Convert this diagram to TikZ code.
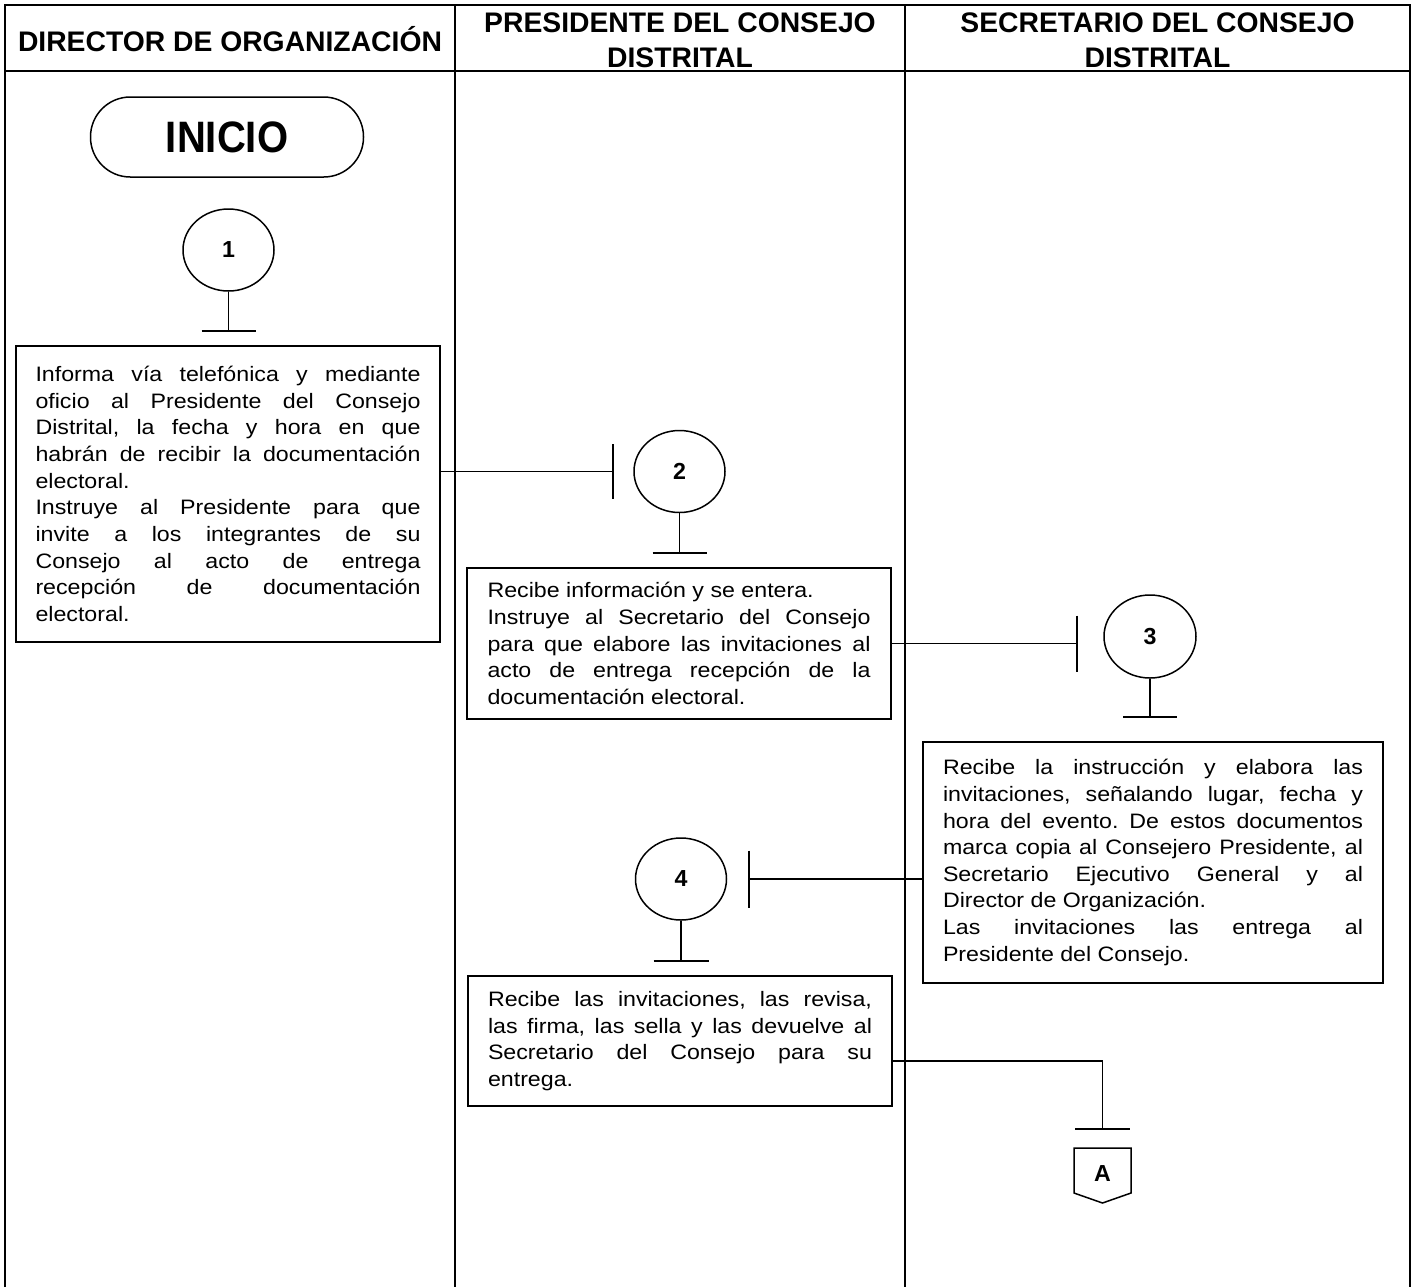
\documentclass[tikz,border=0pt]{standalone}
\usepackage{fontspec}
\setmainfont{Liberation Sans}
\usepackage{graphicx}
\usetikzlibrary{calc,shapes.geometric}
\frenchspacing

% justified step description, slightly condensed in height
\newcommand{\flowtext}[2]{\scalebox{1}[0.9]{\parbox{#1}{\fontsize{11.6pt}{14.8pt}\selectfont\hyphenpenalty=10000\exhyphenpenalty=10000 #2}}}

\begin{document}
\begin{tikzpicture}[x=0.5pt,y=-0.5pt,
  lane/.style={line width=1pt},
  head/.style={inner sep=0pt, align=center, font=\fontsize{14.15pt}{17.5pt}\selectfont\bfseries},
  stepbox/.style={draw, line width=0.9pt, inner sep=0pt},
  stepnum/.style={draw, ellipse, line width=0.75pt, inner sep=0pt,
    minimum width=45.5pt, minimum height=41pt,
    font=\fontsize{11.6pt}{14pt}\selectfont\bfseries},
  link/.style={line width=0.75pt}]
\useasboundingbox (0,0) rectangle (1415,1287);

% swimlane frame
\draw[lane] (5,1287) -- (5,5) -- (1410,5) -- (1410,1287);
\draw[lane] (5,71) -- (1410,71);
\draw[lane] (455,5) -- (455,1287);
\draw[lane] (905,5) -- (905,1287);

% lane headers
\node[head] (h1) at (230,39) {DIRECTOR DE ORGANIZACIÓN};
\node[head] (h2) at (680,40) {PRESIDENTE DEL CONSEJO\\DISTRITAL};
\node[head] (h3) at (1157.5,40) {SECRETARIO DEL CONSEJO\\DISTRITAL};

% start terminal
\node[draw, line width=0.75pt, rounded corners=19.9pt, inner sep=0pt,
  minimum width=136.5pt, minimum height=40pt,
  font=\fontsize{20pt}{24pt}\selectfont\bfseries] (inicio) at (227,137) {\raisebox{-1.5pt}{\scalebox{1}[1.1]{INICIO}}};

% step 1
\node[stepnum] (c1) at (228.5,250) {1};
\coordinate (t1) at (228.5,331);
\draw[link] (c1.south) -- (t1);
\draw[link] ($(t1)+(-27,0)$) -- ($(t1)+(27,0)$);
\node[stepbox, minimum width=212pt, minimum height=148pt] (b1) at (228,494) {\flowtext{192.5pt}{%
Informa vía telefónica y mediante\linebreak
oficio al Presidente del Consejo\linebreak
Distrital, la fecha y hora en que\linebreak
habrán de recibir la documentación\linebreak
electoral.\\
Instruye al Presidente para que\linebreak
invite a los integrantes de su\linebreak
Consejo al acto de entrega\linebreak
recepción de documentación\linebreak
electoral.}};

% step 2
\node[stepnum] (c2) at (679.5,471.5) {2};
\coordinate (j2) at (613,471.5);
\draw[link] (b1.east |- j2) -- (j2);
\draw[link] ($(j2)+(0,-27.5)$) -- ($(j2)+(0,27.5)$);
\coordinate (t2) at (679.5,553);
\draw[link] (c2.south) -- (t2);
\draw[link] ($(t2)+(-27,0)$) -- ($(t2)+(27,0)$);
\node[stepbox, minimum width=212pt, minimum height=75.5pt] (b2) at (679,643.5) {\flowtext{191.5pt}{%
Recibe información y se entera.\\
Instruye al Secretario del Consejo\linebreak
para que elabore las invitaciones al\linebreak
acto de entrega recepción de la\linebreak
documentación electoral.}};

% step 3
\node[stepnum, minimum width=46pt, minimum height=41.5pt] (c3) at (1150,636.5) {3};
\coordinate (j3) at (1077,643.5);
\draw[link] (b2.east) -- (j3);
\draw[link] ($(j3)+(0,-28)$) -- ($(j3)+(0,28)$);
\coordinate (t3) at (1150,717);
\draw[link] (c3.south) -- (t3);
\draw[link] ($(t3)+(-27,0)$) -- ($(t3)+(27,0)$);
\node[stepbox, minimum width=230pt, minimum height=120.5pt] (b3) at (1153,862.5) {\flowtext{210pt}{%
Recibe la instrucción y elabora las\linebreak
invitaciones, señalando lugar, fecha y\linebreak
hora del evento. De estos documentos\linebreak
marca copia al Consejero Presidente, al\linebreak
Secretario Ejecutivo General y al\linebreak
Director de Organización.\\
Las invitaciones las entrega al\linebreak
Presidente del Consejo.}};

% step 4
\node[stepnum] (c4) at (681,879) {4};
\coordinate (j4) at (749,879);
\draw[link] (b3.west |- j4) -- (j4);
\draw[link] ($(j4)+(0,-28.5)$) -- ($(j4)+(0,28.5)$);
\coordinate (t4) at (681,961);
\draw[link] (c4.south) -- (t4);
\draw[link] ($(t4)+(-27.5,0)$) -- ($(t4)+(27.5,0)$);
\node[stepbox, minimum width=212pt, minimum height=65pt] (b4) at (680,1041) {\flowtext{192pt}{%
Recibe las invitaciones, las revisa,\linebreak
las firma, las sella y las devuelve al\linebreak
Secretario del Consejo para su\linebreak
entrega.}};

% off-page connector A
\coordinate (j5) at (1102.5,1129);
\draw[link] ($(b4.east)+(0,20)$) -| (j5);
\draw[link] ($(j5)+(-27.5,0)$) -- ($(j5)+(27.5,0)$);
\node[inner sep=0pt, font=\fontsize{11.6pt}{14pt}\selectfont\bfseries] (A) at (1102.5,1174) {A};
\draw[link] ($(A)+(-28.5,-26)$) -- ($(A)+(28.5,-26)$) -- ($(A)+(28.5,19)$)
  -- ($(A)+(0,29)$) -- ($(A)+(-28.5,19)$) -- cycle;
\end{tikzpicture}
\end{document}
